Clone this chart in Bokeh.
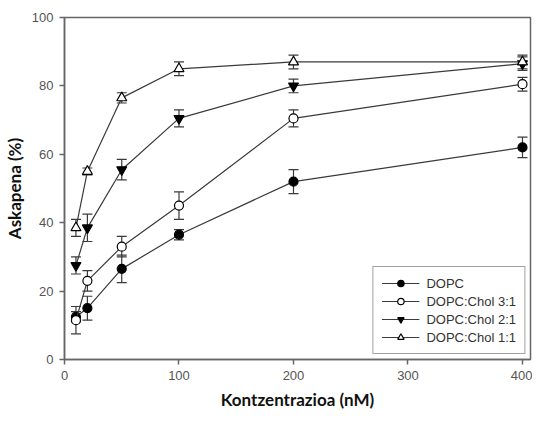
from bokeh.plotting import figure
from bokeh.models import ColumnDataSource, Whisker, TeeHead, Legend, LegendItem, FixedTicker, Range1d
from bokeh.embed import file_html
from bokeh.resources import INLINE

# Data
conc = [10, 20, 50, 100, 200, 400]
dopc = [12.5, 15, 26.5, 36.5, 52, 62]
dopc_err = [1.5, 3.5, 4, 1.5, 3.5, 3]
chol31 = [11.5, 23, 33, 45, 70.5, 80.5]
chol31_err = [4, 3, 3, 4, 2.5, 2]
chol21 = [27.5, 38.5, 55.5, 70.5, 80, 86.5]
chol21_err = [2.5, 4, 3, 2.5, 2, 2]
chol11 = [38.5, 55, 76.5, 85, 87, 87]
chol11_err = [2.5, 1, 1.5, 2, 2, 2]

series_names = ["DOPC", "DOPC:Chol 3:1", "DOPC:Chol 2:1", "DOPC:Chol 1:1"]
x_ticks = [0, 100, 200, 300, 400]
y_ticks = [0, 20, 40, 60, 80, 100]

p = figure(width=532, height=412, output_backend="svg", toolbar_location=None,
           x_range=Range1d(0, 407), y_range=Range1d(0, 100),
           min_border_left=64, min_border_right=2, min_border_top=17, min_border_bottom=52)
p.grid.visible = False
p.background_fill_color = "white"
p.border_fill_color = "white"
p.outline_line_color = "#666666"
p.outline_line_width = 1.5

for ax in (p.xaxis[0], p.yaxis[0]):
    ax.axis_line_color = "#666666"
    ax.axis_line_width = 1.5
    ax.major_tick_line_color = "#666666"
    ax.major_tick_line_width = 1.5
    ax.major_tick_out = 5
    ax.major_tick_in = 0
    ax.minor_tick_line_color = None
    ax.major_label_text_font = "Liberation Sans"
    ax.major_label_text_font_size = "13px"
    ax.major_label_text_color = "#555555"
    ax.axis_label_text_font = "Lato"
    ax.axis_label_text_font_style = "bold"
    ax.axis_label_text_font_size = "17px"
    ax.axis_label_text_color = "#111111"

p.xaxis.ticker = FixedTicker(ticks=x_ticks)
p.yaxis.ticker = FixedTicker(ticks=y_ticks)
p.xaxis.major_label_standoff = 6
p.yaxis.major_label_standoff = 6
p.xaxis.axis_label = "Kontzentrazioa (nM)"
p.yaxis.axis_label = "Askapena (%)"
p.xaxis.axis_label_standoff = 6
p.yaxis.axis_label_standoff = 4

line_col = "#3a3a3a"
styles = [
    (dopc, dopc_err, "circle", "black"),
    (chol31, chol31_err, "circle", "white"),
    (chol21, chol21_err, "inverted_triangle", "black"),
    (chol11, chol11_err, "triangle", "white"),
]

items = []
for name, (vals, errs, marker, fill) in zip(series_names, styles):
    src = ColumnDataSource(dict(
        x=conc, y=vals,
        upper=[v + e for v, e in zip(vals, errs)],
        lower=[v - e for v, e in zip(vals, errs)],
    ))
    w = Whisker(base="x", upper="upper", lower="lower", source=src,
                line_color=line_col, line_width=1.2,
                upper_head=TeeHead(size=10, line_color=line_col, line_width=1.2),
                lower_head=TeeHead(size=10, line_color=line_col, line_width=1.2))
    p.add_layout(w)
    ln = p.line("x", "y", source=src, line_color=line_col, line_width=1.2)
    sc = p.scatter("x", "y", source=src, marker=marker, size=9 if marker == "circle" else 10,
                   fill_color=fill, line_color="black", line_width=1.2)
    items.append(LegendItem(label=name, renderers=[ln, sc]))

legend = Legend(items=items, location="bottom_right",
                label_text_font="Liberation Sans", label_text_font_size="13px",
                label_text_color="#333333",
                glyph_width=38, glyph_height=16, label_height=16, spacing=2,
                label_standoff=7, padding=8, margin=5,
                border_line_color="#444444", border_line_width=1.5,
                background_fill_color="white", background_fill_alpha=1.0)
p.add_layout(legend)

open("out.html", "w").write(file_html(p, INLINE))
